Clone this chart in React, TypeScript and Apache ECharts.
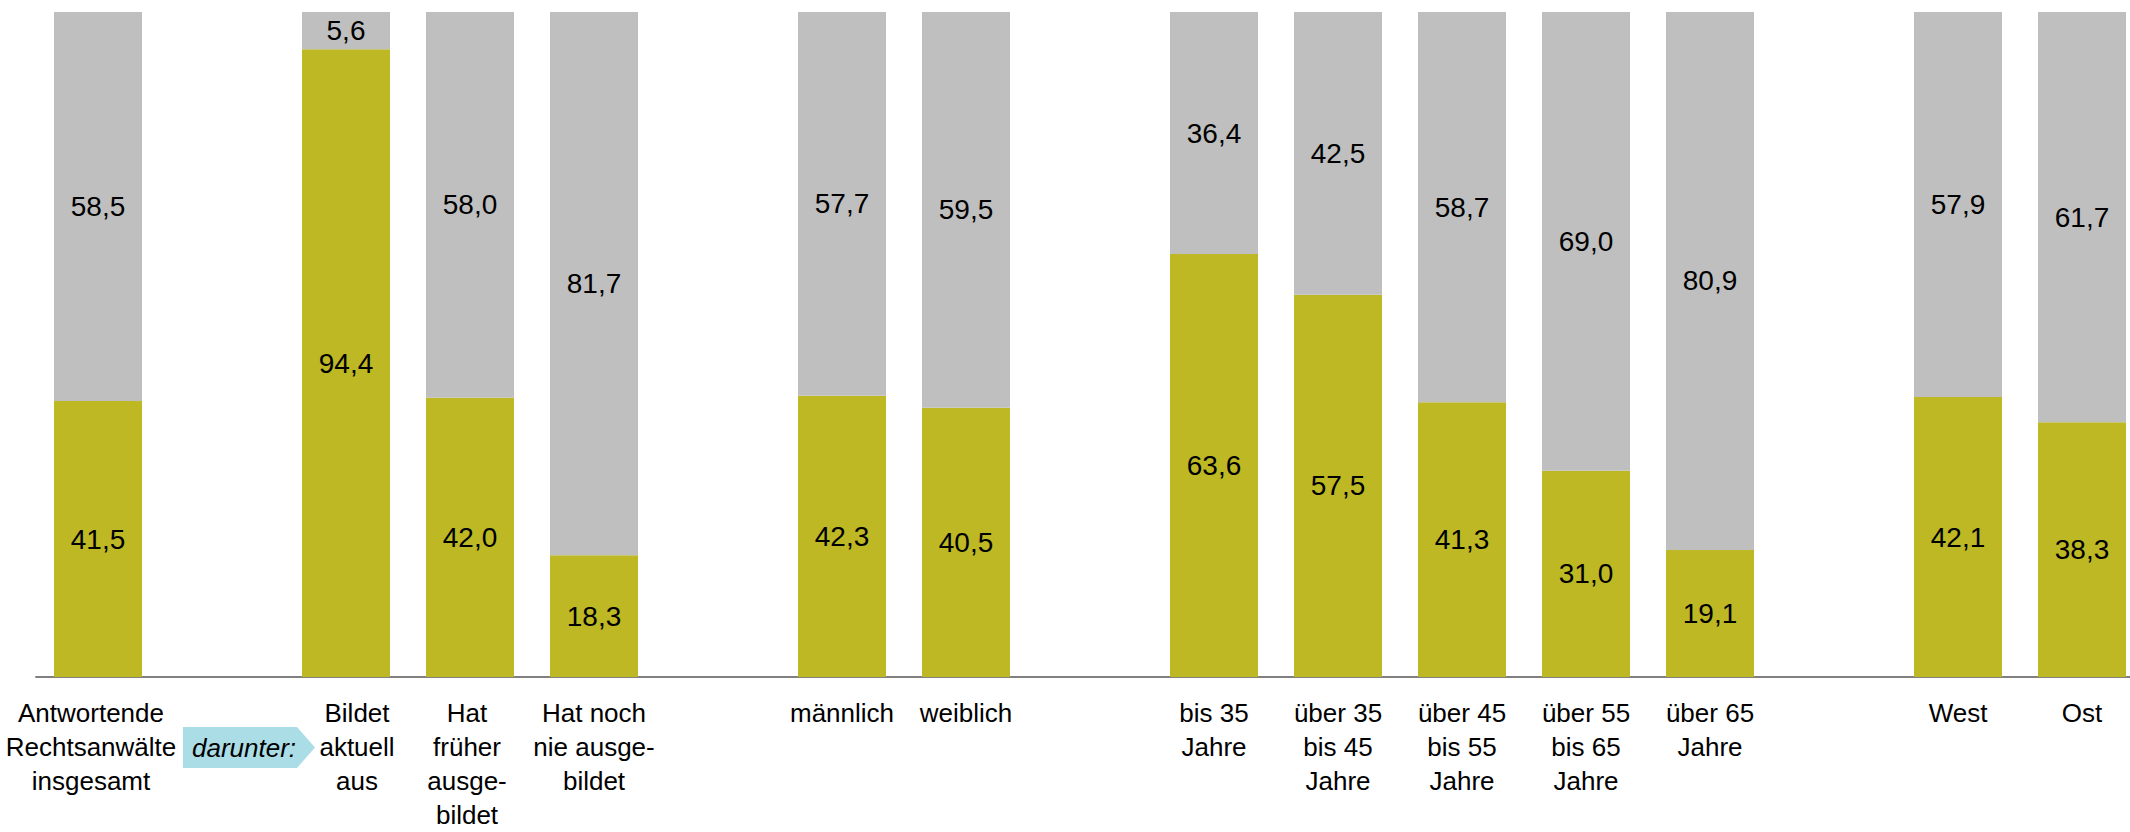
import React, { useEffect, useRef } from "react";
import * as echarts from "echarts";

const categories: string[] = [
  "Antwortende\nRechtsanwälte\ninsgesamt",
  "",
  "Bildet\naktuell\naus",
  "Hat\nfrüher\nausge-\nbildet",
  "Hat noch\nnie ausge-\nbildet",
  "",
  "männlich",
  "weiblich",
  "",
  "bis 35\nJahre",
  "über 35\nbis 45\nJahre",
  "über 45\nbis 55\nJahre",
  "über 55\nbis 65\nJahre",
  "über 65\nJahre",
  "",
  "West",
  "Ost",
];

const yesValues: (number | null)[] = [
  41.5, null, 94.4, 42.0, 18.3, null, 42.3, 40.5, null, 63.6, 57.5, 41.3, 31.0, 19.1, null, 42.1, 38.3,
];
const noValues: (number | null)[] = [
  58.5, null, 5.6, 58.0, 81.7, null, 57.7, 59.5, null, 36.4, 42.5, 58.7, 69.0, 80.9, null, 57.9, 61.7,
];

const OLIVE = "#BDB823";
const GREY = "#BFBFBF";
const FONT = "'Liberation Sans', Arial, sans-serif";

// small horizontal nudges of some category labels (px, + = right)
const labelNudge: Record<number, number> = { 0: -7, 2: 11, 3: -3 };

export default function App() {
  const ref = useRef<HTMLDivElement>(null);
  useEffect(() => {
    if (!ref.current) return;
    const chart = echarts.init(ref.current, null, { renderer: "svg" });
    const fmt = (p: any) => (p.value == null ? "" : Number(p.value).toFixed(1).replace(".", ","));
    const valueLabel = {
      show: true,
      position: "inside" as const,
      color: "#000",
      fontSize: 28,
      fontFamily: FONT,
      formatter: fmt,
    };
    const xData = categories.map((c, i) => {
      const n = labelNudge[i];
      if (!n) return c;
      return {
        value: c,
        textStyle: { padding: n > 0 ? [0, 0, 0, 2 * n] : [0, -2 * n, 0, 0] },
      };
    });
    chart.setOption({
      animation: false,
      backgroundColor: "#fff",
      grid: { left: 36, top: 12, width: 2108, height: 665, outerBoundsMode: "none", containLabel: false },
      xAxis: {
        type: "category",
        data: xData,
        axisLine: { show: true, lineStyle: { color: "#808080", width: 2 } },
        axisTick: { show: false },
        axisLabel: {
          interval: 0,
          margin: 19,
          color: "#000",
          fontSize: 26,
          lineHeight: 34,
          fontFamily: FONT,
          align: "center",
        },
      },
      yAxis: {
        type: "value",
        min: 0,
        max: 100,
        show: false,
        splitLine: { show: false },
      },
      series: [
        {
          name: "ja",
          type: "bar",
          stack: "s",
          barWidth: 88,
          data: yesValues,
          itemStyle: { color: OLIVE },
          label: valueLabel,
        },
        {
          name: "nein",
          type: "bar",
          stack: "s",
          barWidth: 88,
          data: noValues,
          itemStyle: { color: GREY },
          label: valueLabel,
        },
      ],
      graphic: [
        {
          type: "polygon",
          shape: {
            points: [
              [183, 727],
              [297, 727],
              [315, 747.5],
              [297, 768],
              [183, 768],
            ],
          },
          style: { fill: "#ABDDE7" },
        },
        {
          type: "text",
          x: 244,
          y: 748,
          style: {
            text: "darunter:",
            fill: "#000",
            fontSize: 26,
            fontStyle: "italic",
            fontFamily: FONT,
            align: "center",
            verticalAlign: "middle",
          },
        },
      ],
    });
    return () => chart.dispose();
  }, []);
  return (
    <div
      ref={ref}
      style={{ position: "fixed", left: 0, top: 0, width: 2130, height: 832, background: "#fff" }}
    />
  );
}
